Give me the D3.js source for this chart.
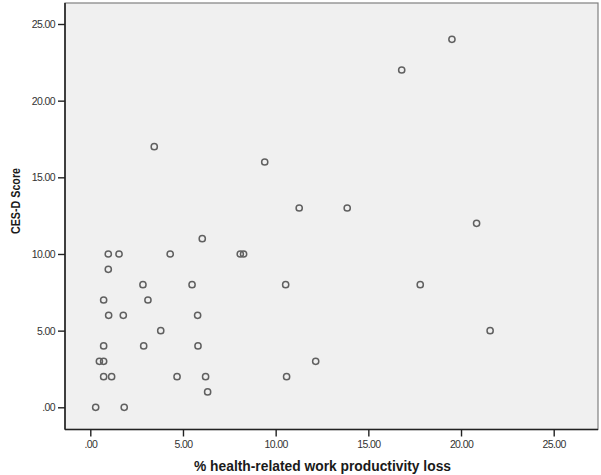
<!DOCTYPE html>
<html><head><meta charset="utf-8">
<script src="https://cdn.jsdelivr.net/npm/d3@7"></script>
<style>
html,body{margin:0;padding:0;background:#fff;}
svg{display:block;}
text{font-family:"Liberation Sans",Arial,sans-serif;}
</style></head>
<body>
<script>
// Data
const productivityLoss = [0.29, 1.83, 6.33, 0.72, 1.15, 4.68, 6.22, 10.59, 0.49, 0.72, 12.16, 0.72, 2.88, 5.81, 3.80, 21.57, 0.99, 1.78, 5.79, 0.72, 3.11, 2.84, 5.49, 10.54, 17.80, 0.97, 0.97, 1.55, 4.31, 8.09, 8.27, 6.04, 20.84, 11.27, 13.86, 9.41, 3.45, 16.8, 19.51];
const cesdScore =        [0, 0, 1, 2, 2, 2, 2, 2, 3, 3, 3, 4, 4, 4, 5, 5, 6, 6, 6, 7, 7, 8, 8, 8, 8, 9, 10, 10, 10, 10, 10, 11, 12, 13, 13, 16, 17, 22, 24];
const xTicks = [0, 5, 10, 15, 20, 25];
const yTicks = [0, 5, 10, 15, 20, 25];
const xTitle = "% health-related work productivity loss";
const yTitle = "CES-D Score";

const W = 601, H = 475;
const pL = 65, pR = 598, pT = 3, pB = 429.5;

const x = d3.scaleLinear().domain([0, 25]).range([90.3, 553.7]);
const y = d3.scaleLinear().domain([0, 25]).range([407.3, 24]);

const svg = d3.select("body").append("svg").attr("width", W).attr("height", H);

svg.append("rect").attr("x", pL).attr("y", pT).attr("width", pR - pL).attr("height", pB - pT)
  .attr("fill", "#f0f0f0").attr("stroke", "#808080").attr("stroke-width", 1.2);

const fmt = v => v === 0 ? ".00" : d3.format(".2f")(v);

const gx = svg.append("g").attr("transform", `translate(0,${pB})`)
  .call(d3.axisBottom(x).tickValues(xTicks).tickFormat(fmt).tickSize(7).tickSizeOuter(0).tickPadding(4));
gx.select(".domain").attr("d", `M${pL},0H${pR}`).attr("stroke", "#222").attr("stroke-width", 1.6);
gx.selectAll(".tick line").attr("stroke", "#222").attr("stroke-width", 1.4);
gx.selectAll(".tick text").attr("font-size", 10.5).attr("fill", "#333").attr("letter-spacing", "-0.6px").attr("font-family", "Liberation Sans, Arial, sans-serif");

const gy = svg.append("g").attr("transform", `translate(${pL},0)`)
  .call(d3.axisLeft(y).tickValues(yTicks).tickFormat(fmt).tickSize(7).tickSizeOuter(0).tickPadding(3));
gy.select(".domain").attr("d", `M0,${pT}V${pB}`).attr("stroke", "#222").attr("stroke-width", 1.6);
gy.selectAll(".tick line").attr("stroke", "#222").attr("stroke-width", 1.4);
gy.selectAll(".tick text").attr("font-size", 10.5).attr("fill", "#333").attr("letter-spacing", "-0.6px").attr("font-family", "Liberation Sans, Arial, sans-serif");

svg.append("g").selectAll("circle").data(productivityLoss.map((v, i) => [v, cesdScore[i]]))
  .join("circle")
  .attr("cx", d => x(d[0])).attr("cy", d => y(d[1])).attr("r", 3.1)
  .attr("fill", "none").attr("stroke", "#606060").attr("stroke-width", 1.5);

svg.append("text").attr("x", 322.5).attr("y", 471).attr("text-anchor", "middle")
  .attr("font-size", 14).attr("font-weight", "bold").attr("fill", "#1a1a1a")
  .attr("textLength", 257).attr("lengthAdjust", "spacingAndGlyphs").text(xTitle);

svg.append("text").attr("transform", "translate(20,201) rotate(-90)").attr("text-anchor", "middle")
  .attr("font-size", 13.5).attr("font-weight", "bold").attr("fill", "#1a1a1a")
  .attr("textLength", 66).attr("lengthAdjust", "spacingAndGlyphs").text(yTitle);
</script>
</body></html>
